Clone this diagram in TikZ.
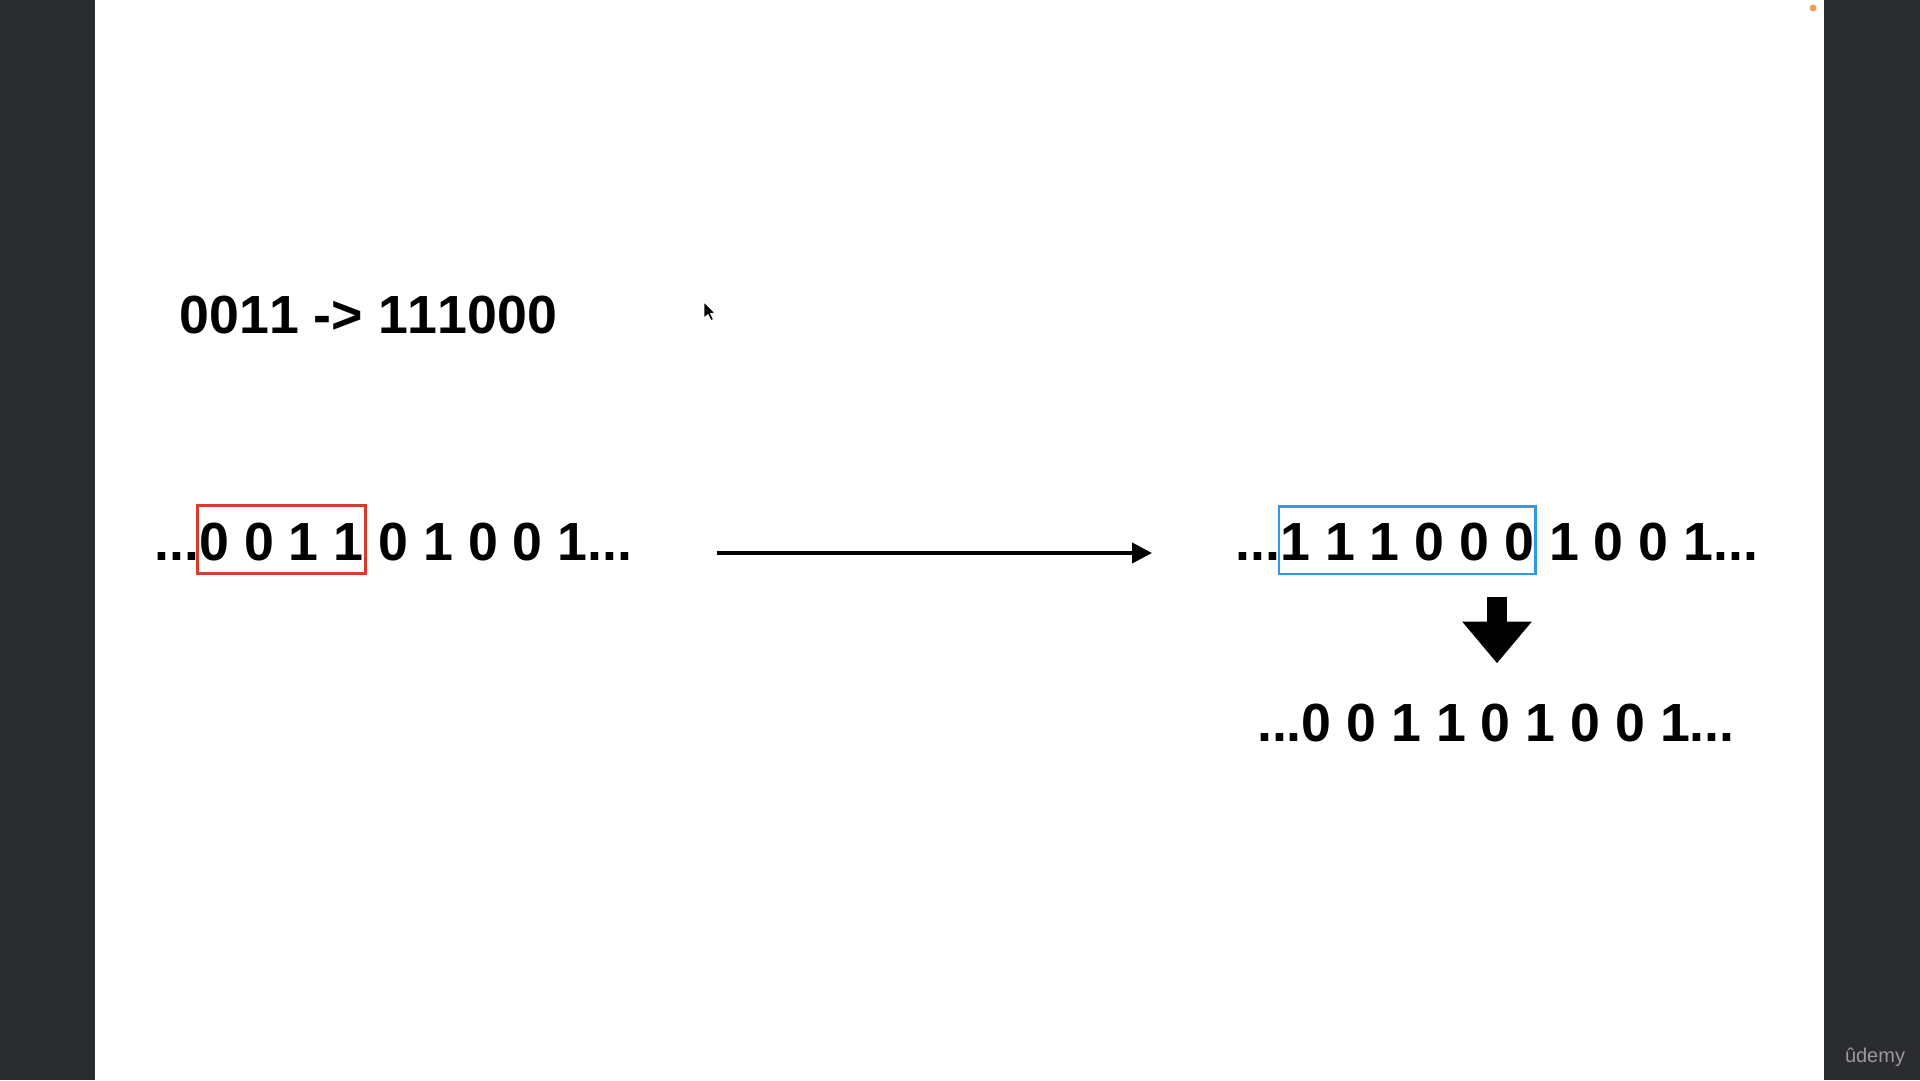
\documentclass[tikz,border=0pt]{standalone}
\usepackage{fontspec}
\setmainfont{Liberation Sans}[Kerning=Off]
\usetikzlibrary{arrows.meta}
\definecolor{bandgray}{HTML}{2B2C2F}
\definecolor{boxred}{HTML}{D93A2F}
\definecolor{boxblue}{HTML}{2F9BE6}
\definecolor{dotorange}{HTML}{F0A050}
\definecolor{logogray}{HTML}{9A9A9A}
\begin{document}
\begin{tikzpicture}[x=1pt,y=-1pt,
  bigtext/.style={inner sep=0pt, anchor=base, font=\fontsize{53.7}{60}\selectfont\bfseries, text=black},
  framebox/.style={draw, line width=2.6pt, minimum width=#1, minimum height=67.6pt, inner sep=0pt},
  flowarrow/.style={line width=4pt, -{Triangle[length=20pt,width=20pt]}},
  downarrow/.style={line width=20.6pt, -{Triangle[length=41.6pt,width=66.7pt]}}]
\useasboundingbox (0,0) rectangle (1920,1080);
% screen background
\fill[bandgray] (0,0) rectangle (1920,1080);
\fill[white] (95,0) rectangle (1824,1080);
\fill[dotorange] (1813,8) circle (3.5pt);
\node[inner sep=0pt, anchor=base, text=logogray, font=\fontsize{20}{24}\selectfont] (logo) at (1875,1062) {ûdemy};
% mouse pointer
\filldraw[fill=black, draw=white, line width=0.8pt] (704,302) -- (704,318) -- (708,314.5) -- (711,320.5) -- (713.5,319.5) -- (710.5,313.5) -- (715,313) -- cycle;
% title
\node[bigtext] (title) at (368.5,333) {0011 -> 111000};
% row 1
\node[bigtext] (r1) at (393.5,560) {...0 0 1 1 0 1 0 0 1...};
\node[framebox=168.3pt, draw=boxred] (rb) at (281.5,539.5) {};
% main arrow
\coordinate (a1) at (717,553);
\coordinate (a2) at (1152,553);
\draw[flowarrow] (a1) -- (a2);
% row 2
\node[bigtext] (r2) at (1496.9,560) {...1 1 1 0 0 0 1 0 0 1...};
\node[framebox=256.7pt, draw=boxblue] (bb) at (1407.4,540) {};
% down arrow
\coordinate (d1) at (1497,596.7);
\coordinate (d2) at (1497,663.3);
\draw[downarrow] (d1) -- (d2);
% row 3
\node[bigtext] (r3) at (1495.9,741) {...0 0 1 1 0 1 0 0 1...};
\end{tikzpicture}
\end{document}
